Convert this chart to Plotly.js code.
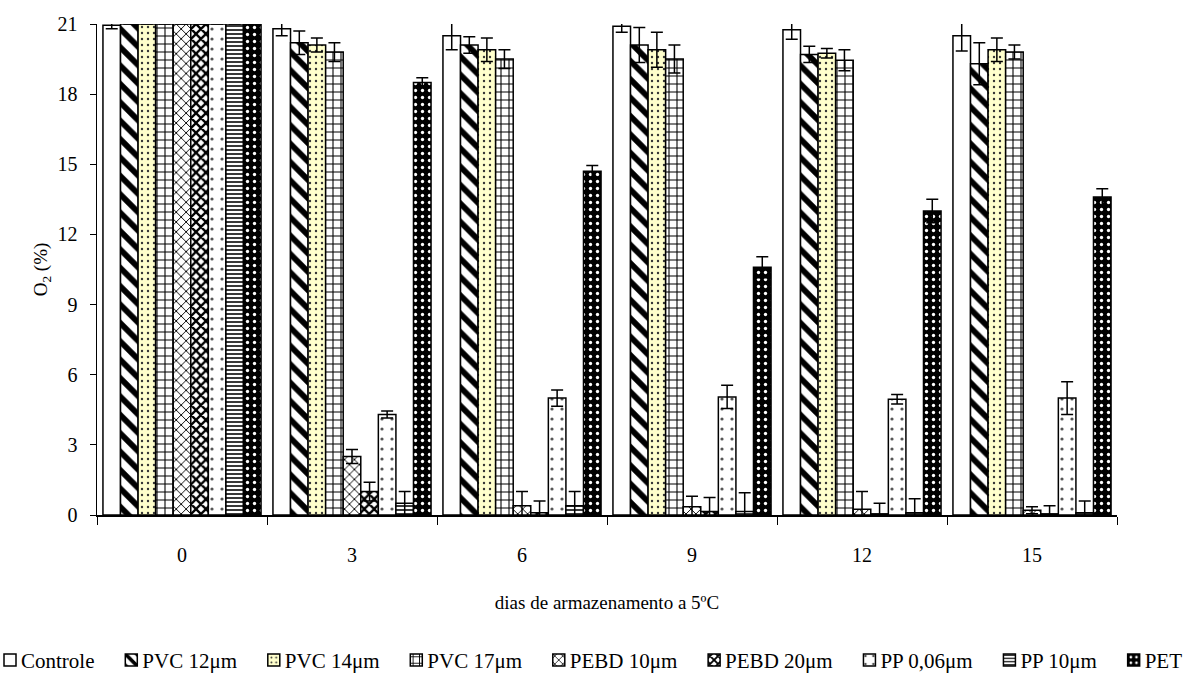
<!DOCTYPE html>
<html>
<head>
<meta charset="utf-8">
<script src="https://cdn.plot.ly/plotly-3.0.1.min.js"></script>
<style>
  html, body { margin: 0; padding: 0; background: #fff; }
  #chart { width: 1184px; height: 679px; }
</style>
</head>
<body>
<div id="chart"></div>
<script>
// Storage days at 5 °C
const days = ['0', '3', '6', '9', '12', '15'];

// O2 concentration (%) per packaging, mean and error
const controle     = [20.95, 20.8, 20.5, 20.9, 20.75, 20.5];
const controleErr  = [0.15, 0.3, 0.6, 0.25, 0.4, 0.65];
const pvc12        = [21, 20.2, 20.1, 20.1, 19.7, 19.3];
const pvc12Err     = [0, 0.5, 0.35, 0.75, 0.35, 0.9];
const pvc14        = [21, 20.1, 19.9, 19.9, 19.75, 19.9];
const pvc14Err     = [0, 0.3, 0.5, 0.75, 0.2, 0.5];
const pvc17        = [21, 19.8, 19.5, 19.5, 19.45, 19.8];
const pvc17Err     = [0, 0.4, 0.4, 0.6, 0.45, 0.3];
const pebd10       = [21, 2.5, 0.4, 0.35, 0.25, 0.2];
const pebd10Err    = [0, 0.3, 0.6, 0.45, 0.75, 0.15];
const pebd20       = [21, 1.0, 0.1, 0.15, 0.05, 0.05];
const pebd20Err    = [0, 0.4, 0.5, 0.6, 0.45, 0.35];
const pp006        = [21, 4.3, 5.0, 5.05, 4.95, 5.0];
const pp006Err     = [0, 0.15, 0.35, 0.5, 0.2, 0.7];
const pp10         = [21, 0.5, 0.4, 0.15, 0.1, 0.1];
const pp10Err      = [0, 0.5, 0.6, 0.8, 0.6, 0.5];
const pet          = [21, 18.5, 14.7, 10.6, 13.0, 13.6];
const petErr       = [0, 0.2, 0.25, 0.45, 0.5, 0.35];

const seriesNames = ['Controle', 'PVC 12μm', 'PVC 14μm', 'PVC 17μm', 'PEBD 10μm',
                     'PEBD 20μm', 'PP 0,06μm', 'PP 10μm', 'PET'];

const FONT = 'Liberation Serif';
const FS = 20;

// fill style of each packaging
const patterns = [
  { shape: '',   bgcolor: '#ffffff', fgcolor: '#000000', size: 8,  solidity: 0.3 },
  { shape: '\\', bgcolor: '#ffffff', fgcolor: '#000000', size: 13, solidity: 0.45 },
  { shape: '.',  bgcolor: '#ffffcc', fgcolor: '#333333', size: 6,  solidity: 0.12 },
  { shape: '+',  bgcolor: '#ffffff', fgcolor: '#000000', size: 8,  solidity: 0.25 },
  { shape: 'x',  bgcolor: '#ffffff', fgcolor: '#000000', size: 7,  solidity: 0.25 },
  { shape: 'x',  bgcolor: '#ffffff', fgcolor: '#000000', size: 7,  solidity: 0.55 },
  { shape: '.',  bgcolor: '#ffffff', fgcolor: '#555555', size: 10, solidity: 0.08 },
  { shape: '-',  bgcolor: '#ffffff', fgcolor: '#222222', size: 4,  solidity: 0.45 },
  { shape: '.',  bgcolor: '#000000', fgcolor: '#ffffff', size: 7,  solidity: 0.18 }
];

const values = [controle, pvc12, pvc14, pvc17, pebd10, pebd20, pp006, pp10, pet];
const errors = [controleErr, pvc12Err, pvc14Err, pvc17Err, pebd10Err, pebd20Err, pp006Err, pp10Err, petErr];

const traces = values.map((v, i) => ({
  type: 'bar',
  name: seriesNames[i],
  x: days,
  y: v,
  marker: {
    color: patterns[i].bgcolor,
    line: { color: '#000000', width: 1.5 },
    pattern: Object.assign({ fillmode: 'replace' }, patterns[i])
  },
  error_y: {
    type: 'data',
    array: errors[i],
    symmetric: true,
    visible: true,
    color: '#000000',
    thickness: 1.5,
    width: 6
  },
  hoverinfo: 'skip'
}));

const layout = {
  width: 1184,
  height: 679,
  margin: { l: 97, r: 67, t: 24, b: 164 },
  paper_bgcolor: '#ffffff',
  plot_bgcolor: '#ffffff',
  font: { family: FONT, size: FS, color: '#000000' },
  barmode: 'group',
  bargap: 0.07,
  bargroupgap: 0,
  showlegend: true,
  legend: {
    orientation: 'h',
    xref: 'container',
    yref: 'container',
    x: 0.5,
    xanchor: 'center',
    y: 0.028,
    yanchor: 'middle',
    font: { family: FONT, size: 21, color: '#000000' },
    itemwidth: 30,
    tracegroupgap: 0
  },
  xaxis: {
    type: 'category',
    showline: true,
    linecolor: '#000000',
    linewidth: 1.5,
    ticks: 'outside',
    tickson: 'boundaries',
    ticklen: 8,
    tickcolor: '#000000',
    tickwidth: 1,
    ticklabelstandoff: 21,
    showgrid: false,
    zeroline: false,
    tickfont: { family: FONT, size: FS },
    title: { text: 'dias de armazenamento a 5ºC', font: { family: FONT, size: 19 }, standoff: 31 }
  },
  yaxis: {
    range: [0, 21],
    tickvals: [0, 3, 6, 9, 12, 15, 18, 21],
    showline: true,
    linecolor: '#000000',
    linewidth: 1.5,
    ticks: 'outside',
    ticklen: 6,
    tickcolor: '#000000',
    tickwidth: 1,
    ticklabelstandoff: 8,
    showgrid: false,
    zeroline: false,
    tickfont: { family: FONT, size: FS },
    title: { text: 'O<sub>2</sub> (%)', font: { family: FONT, size: 19 }, standoff: 5 }
  }
};

// Lay the legend entries out on one row spanning the page width
function compactLegend(gd) {
  const legend = gd.querySelector('g.legend');
  if (!legend) return;
  legend.querySelectorAll('[clip-path]').forEach(el => el.removeAttribute('clip-path'));
  const bg = legend.querySelector('rect.bg');
  if (bg) bg.setAttribute('fill-opacity', 0);
  const items = Array.from(legend.querySelectorAll('g.traces'));
  const SYM_C = 20;             // symbol centre inside an entry
  const SYM_L = SYM_C - 6;      // symbol left edge inside an entry
  const TEXT_X = SYM_C + 6 + 5; // text start inside an entry
  const LEFT = 4, RIGHT = 1182;
  const widths = items.map(tr => {
    const t = tr.querySelector('text.legendtext');
    t.setAttribute('x', TEXT_X);
    return t.getComputedTextLength();
  });
  const used = widths.reduce((a, b) => a + b, 0) + items.length * (TEXT_X - SYM_L);
  const gap = Math.max(6, (RIGHT - LEFT - used) / (items.length - 1));
  let x = LEFT - SYM_L;
  items.forEach((tr, i) => {
    tr.setAttribute('transform', 'translate(' + x + ',0)');
    x += (TEXT_X - SYM_L) + widths[i] + gap;
  });
  legend.setAttribute('transform', 'translate(0,660)');
  const scroll = legend.querySelector('g.scrollbox');
  if (scroll) scroll.setAttribute('transform', 'translate(0,0)');
  legend.querySelectorAll('g.groups').forEach(g => g.setAttribute('transform', 'translate(0,0)'));
}

Plotly.newPlot('chart', traces, layout, { displayModeBar: false, staticPlot: true })
  .then(gd => compactLegend(gd));
</script>
</body>
</html>
